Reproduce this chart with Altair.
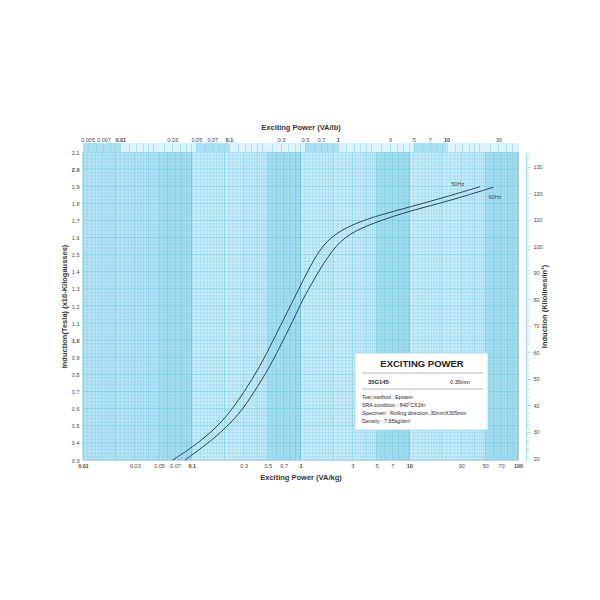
import altair as alt
import pandas as pd

# ---------------- data ----------------
va_kg_50 = [0.0668, 0.1033, 0.147, 0.210, 0.298, 0.424, 0.562, 0.695, 0.826, 0.99,
            1.31, 1.74, 2.66, 4.67, 10.9, 22.1, 44.7]
t_50 = [0.30, 0.378, 0.456, 0.553, 0.690, 0.845, 1.001, 1.118, 1.214, 1.313,
        1.469, 1.586, 1.663, 1.722, 1.784, 1.839, 1.897]
va_kg_60 = [0.0867, 0.128, 0.182, 0.278, 0.368, 0.524, 0.695, 0.859, 1.043, 1.223,
            1.62, 2.31, 3.52, 6.2, 10.9, 22.1, 59.3]
t_60 = [0.30, 0.378, 0.456, 0.573, 0.690, 0.845, 1.001, 1.118, 1.235, 1.313,
        1.45, 1.586, 1.654, 1.712, 1.761, 1.810, 1.894]

freq_names = ["50Hz", "60Hz"]
freq_label_va = [27.9, 61.4]
freq_label_t = [1.911, 1.839]

x_ticks_kg = [0.01, 0.03, 0.05, 0.07, 0.1, 0.3, 0.5, 0.7, 1, 3, 5, 7, 10, 30, 50, 70, 100]
y_ticks_t = [round(0.3 + 0.1 * i, 1) for i in range(19)]
kl_ticks = list(range(20, 136))

box_title = "EXCITING POWER"
grade = "35G145"
thickness = "0.35mm"
box_lines = ["Test method : Epstein",
             "SRA condition : 840˚CX1hr",
             "Specimen : Rolling direction, 30mmX305mm",
             "Density : 7.65kg/dm³"]

# ---------------- constants ----------------
LB = 0.45359237          # VA/kg -> VA/lb
KL = 64.516              # Tesla -> kilolines/in^2
XMIN, XMAX = 0.01, 100
YMIN, YMAX = 0.3, 2.1
W, H = 435, 308
FONT = "Liberation Sans"

BASE = "#c9edf8"
BAND = "#8fd4ec"
LINE = "#2c4656"

xs = alt.Scale(type="log", domain=[XMIN, XMAX])
ys = alt.Scale(domain=[YMIN, YMAX])

decade_test = "abs(log(datum.value)/LN10 - round(log(datum.value)/LN10)) < 1e-6"

AX_KG = alt.Axis(
    values=x_ticks_kg, format="~g", ticks=False, domain=False, grid=False,
    labelFlush=False, labelPadding=3, labelFontSize=5.5, labelColor="#444",
    labelFontWeight={"condition": {"test": decade_test, "value": "bold"}, "value": "normal"},
    title="Exciting Power (VA/kg)", titleFontSize=7.5, titleFontWeight="bold",
    titleColor="#333", titlePadding=5)
AX_T = alt.Axis(
    values=y_ticks_t, format=".1f", ticks=False, domain=False, grid=False,
    labelFlush=False, labelPadding=4, labelFontSize=5.5, labelColor="#444",
    labelFontWeight={"condition": {"test": "abs(datum.value-1)<1e-6 || abs(datum.value-2)<1e-6",
                                   "value": "bold"}, "value": "normal"},
    title="Induction(Tesla) (x10-Kilogausses)", titleFontSize=7.5, titleFontWeight="bold",
    titleColor="#333", titlePadding=3)

# ---------------- grid tables ----------------
mant = [1 + 0.1 * i for i in range(10)] + [2 + 0.2 * i for i in range(15)] + [5 + 0.5 * i for i in range(10)]
vrows = []
for d in range(-2, 2):
    for k in mant:
        k = round(k, 6)
        v = round(k * 10 ** d, 10)
        if abs(k - 1) < 1e-9:
            kind = "decade"
        elif abs(k - round(k)) < 1e-9:
            kind = "major"
        else:
            kind = "minor"
        vrows.append({"v": v, "kind": kind})
vrows.append({"v": 100.0, "kind": "decade"})
vgrid = pd.DataFrame(vrows)

hrows = []
for i in range(91):
    hrows.append({"t": round(0.3 + 0.02 * i, 2), "kind": "major" if i % 5 == 0 else "minor"})
hgrid = pd.DataFrame(hrows)

kind_color = alt.Scale(domain=["minor", "major", "decade"], range=["#84d0ea", "#5cc2e2", "#35abd5"])
kind_width = alt.Scale(domain=["minor", "major", "decade"], range=[0.4, 0.6, 0.9])

bands = pd.DataFrame({"a": [0.01, 0.05, 0.5, 5, 50], "b": [0.05, 0.1, 1, 10, 100],
                      "y0": [YMIN] * 5, "y1": [YMAX] * 5, "lvl": ["m", "d", "d", "d", "d"]})
lvl_op = alt.Scale(domain=["m", "d"], range=[0.3, 0.6])
base = pd.DataFrame({"a": [XMIN], "b": [XMAX], "y0": [YMIN], "y1": [YMAX]})

curves = pd.DataFrame({
    "v": va_kg_50 + va_kg_60,
    "t": t_50 + t_60,
    "f": ["50Hz"] * len(va_kg_50) + ["60Hz"] * len(va_kg_60),
})
flabels = pd.DataFrame({"name": freq_names, "v": freq_label_va, "t": freq_label_t})

# ---------------- main layer (VA/kg, Tesla) ----------------
bg = alt.Chart(base).mark_rect(color=BASE).encode(
    x=alt.X("a:Q", scale=xs, axis=AX_KG), x2="b:Q",
    y=alt.Y("y0:Q", scale=ys, axis=AX_T), y2="y1:Q",
)

band_layer = alt.Chart(bands).mark_rect(color=BAND).encode(
    x=alt.X("a:Q", scale=xs, axis=AX_KG), x2="b:Q",
    y=alt.Y("y0:Q", scale=ys, axis=AX_T), y2="y1:Q",
    opacity=alt.Opacity("lvl:N", scale=lvl_op, legend=None),
)

vlines = alt.Chart(vgrid).mark_rule().encode(
    x=alt.X("v:Q", scale=xs, axis=AX_KG),
    color=alt.Color("kind:N", scale=kind_color, legend=None),
    strokeWidth=alt.StrokeWidth("kind:N", scale=kind_width, legend=None),
)
hlines = alt.Chart(hgrid).mark_rule().encode(
    y=alt.Y("t:Q", scale=ys, axis=AX_T),
    color=alt.Color("kind:N", scale=kind_color, legend=None),
    strokeWidth=alt.StrokeWidth("kind:N", scale=kind_width, legend=None),
)

lines = alt.Chart(curves).mark_line(color=LINE, strokeWidth=1, interpolate="basis").encode(
    x=alt.X("v:Q", scale=xs, axis=AX_KG),
    y=alt.Y("t:Q", scale=ys, axis=AX_T),
    detail="f:N",
)

ftext = alt.Chart(flabels).mark_text(fontSize=5.5, color="#444", font=FONT).encode(
    x=alt.X("v:Q", scale=xs, axis=AX_KG),
    y=alt.Y("t:Q", scale=ys, axis=AX_T),
    text="name:N",
)

one = pd.DataFrame({"k": [0]})
box = alt.Chart(one).mark_rect(fill="white", stroke="#9fd3e6", strokeWidth=0.8).encode(
    x=alt.value(272), x2=alt.value(405), y=alt.value(201), y2=alt.value(278))
sep1 = alt.Chart(one).mark_rule(color="#888", strokeWidth=0.6).encode(
    x=alt.value(279), x2=alt.value(400), y=alt.value(221))
sep2 = alt.Chart(one).mark_rule(color="#888", strokeWidth=0.6).encode(
    x=alt.value(279), x2=alt.value(400), y=alt.value(237))


def txt(s, x, y, size, weight="normal", align="left"):
    return alt.Chart(one).mark_text(
        text=s, fontSize=size, fontWeight=weight, align=align, baseline="middle",
        color="#222", font=FONT).encode(x=alt.value(x), y=alt.value(y))


box_texts = [
    txt(box_title, 339, 212, 9.5, "bold", "center"),
    txt(grade, 285, 230, 5.8, "bold"),
    txt(thickness, 377, 230, 5.5, "normal", "center"),
]
for i, s in enumerate(box_lines):
    box_texts.append(txt(s, 279, 245 + 8 * i, 5.3))

main = alt.layer(bg, band_layer, vlines, hlines, lines, ftext, box, sep1, sep2, *box_texts)

# ---------------- top strip (VA/lb axis) ----------------
xs_lb = alt.Scale(type="log", domain=[XMIN * LB, XMAX * LB])
ys_strip = alt.Scale(domain=[YMIN, YMAX])
strip_h = 9 * (YMAX - YMIN) / H

lb_mant = [1, 1.2, 1.4, 1.6, 1.8, 2, 2.5, 3, 3.5, 4, 4.5, 5, 6, 7, 8, 9]
lb_vals = []
for d in range(-3, 2):
    for k in lb_mant:
        v = round(k * 10 ** d, 10)
        if XMIN * LB <= v <= XMAX * LB:
            lb_vals.append(v)

mant_expr = "datum.value / pow(10, floor(log(datum.value)/LN10 + 1e-9))"
lb_label_expr = ("(abs({m} - round({m})) < 1e-6 && indexof([1,3,5,7], round({m})) >= 0)"
                 " ? format(datum.value, '~g') : ''").format(m=mant_expr)

AX_LB = alt.Axis(
    orient="top", values=lb_vals, labelExpr=lb_label_expr, domain=False, grid=False,
    ticks=True, tickSize=9, tickColor="#7fcfe9", tickWidth=0.5, zindex=1,
    labelFlush=False, labelPadding=1, labelFontSize=5.5, labelColor="#444",
    labelFontWeight={"condition": {"test": decade_test, "value": "bold"}, "value": "normal"},
    title="Exciting Power (VA/lb)", titleFontSize=7.5, titleFontWeight="bold",
    titleColor="#333", titlePadding=6)

strip_base = pd.DataFrame({"a": [XMIN * LB], "b": [XMAX * LB],
                           "y0": [YMAX], "y1": [YMAX + strip_h]})
strip_bands = pd.DataFrame({"a": [XMIN * LB, 0.05, 0.5, 5], "b": [0.01, 0.1, 1, 10],
                            "y0": [YMAX] * 4, "y1": [YMAX + strip_h] * 4})

top_base = alt.Chart(strip_base).mark_rect(color="#dbf3fb").encode(
    x=alt.X("a:Q", scale=xs_lb, axis=AX_LB), x2="b:Q",
    y=alt.Y("y0:Q", scale=ys_strip, axis=None), y2="y1:Q",
)
top_bands = alt.Chart(strip_bands).mark_rect(color="#a9e1f3").encode(
    x=alt.X("a:Q", scale=xs_lb, axis=AX_LB), x2="b:Q",
    y=alt.Y("y0:Q", scale=ys_strip, axis=None), y2="y1:Q",
)
top = alt.layer(top_base, top_bands)

# ---------------- right axis (kilolines / in^2) ----------------
kl_df = pd.DataFrame({"kl": [20, 130]})
right = alt.Chart(kl_df).mark_point(opacity=0).encode(
    x=alt.value(0),
    y=alt.Y("kl:Q", scale=alt.Scale(domain=[YMIN * KL, YMAX * KL]), axis=alt.Axis(
        orient="right", offset=8, values=kl_ticks, grid=False,
        labelExpr="datum.value % 10 == 0 ? datum.label : ''",
        tickSize={"condition": {"test": "datum.value % 10 == 0", "value": 5}, "value": 2.5},
        tickColor="#8fd3ea", tickWidth=0.6, domainColor="#8fd3ea", domainWidth=0.8,
        labelFlush=False, labelPadding=2, labelFontSize=5.5, labelColor="#444",
        title="Induction (Kilolines/in²)", titleAngle=270, titleFontSize=7.5,
        titleFontWeight="bold", titleColor="#333", titlePadding=6)),
)

chart = alt.layer(main, top, right).resolve_scale(
    x="independent", y="independent"
).properties(
    width=W, height=H,
    padding={"left": 75, "top": 144, "right": 66, "bottom": 132},
    autosize="none",
).configure_view(stroke=None).configure(font=FONT)

chart.save("out.html", embed_options={"renderer": "svg", "actions": False})
